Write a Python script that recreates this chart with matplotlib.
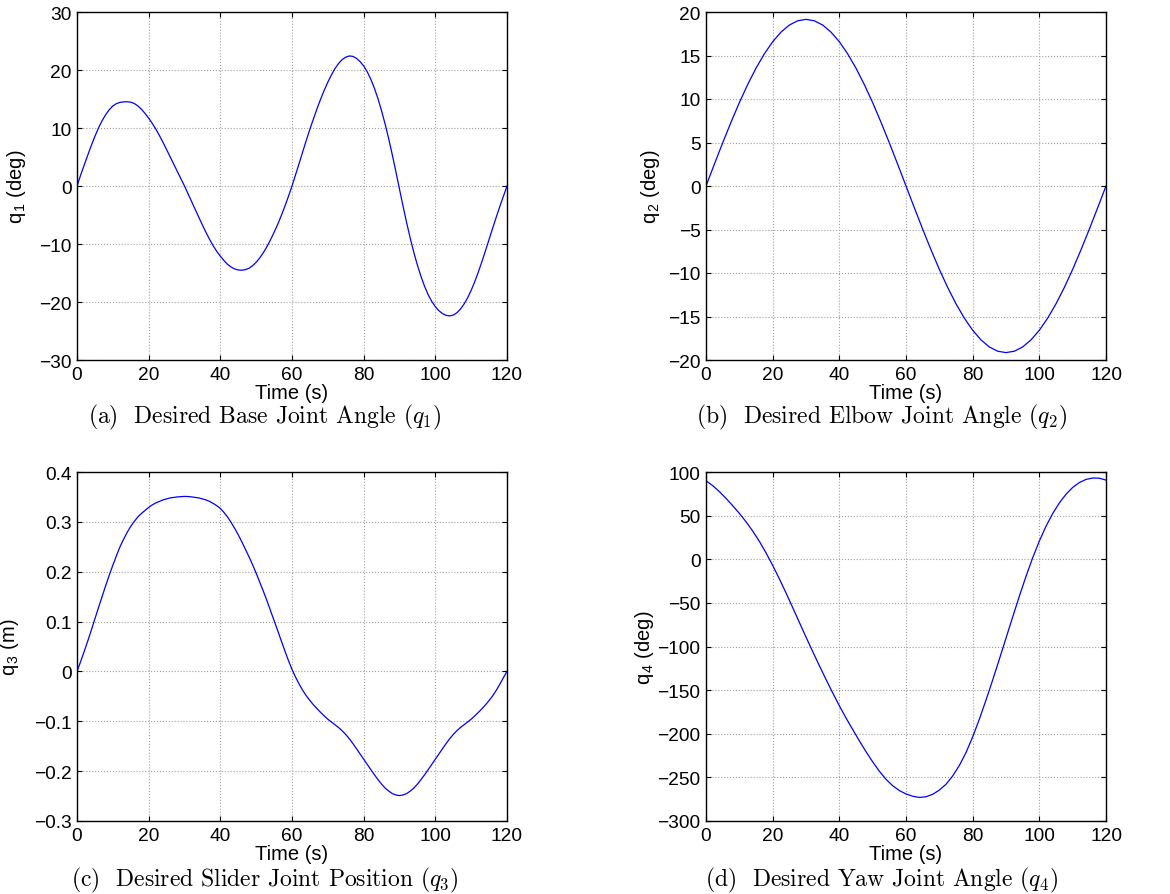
import numpy as np
import matplotlib
matplotlib.use("Agg")
import matplotlib.pyplot as plt

plt.rcParams['font.family'] = ['Liberation Sans', 'DejaVu Sans']
plt.rcParams['mathtext.fontset'] = 'cm'

# ---- data (time in s) ----
t_1s = np.arange(0, 121, 1)
t_2s = np.arange(0, 121, 2)
t_2p5 = np.arange(0, 120.1, 2.5)

q1_deg = [0.00, 1.85, 3.60, 5.32, 7.00, 8.57, 10.00, 11.25, 12.30, 13.15, 13.80, 14.20, 14.42,
          14.50, 14.52, 14.45, 14.22, 13.80, 13.22, 12.50, 11.70, 10.80, 9.80, 8.70, 7.52, 6.28,
          5.02, 3.76, 2.50, 1.25, 0.00,
          -1.35, -2.70, -4.05, -5.40, -6.72, -8.00, -9.20, -10.30, -11.27, -12.10, -12.85, -13.50,
          -13.97, -14.30, -14.48, -14.52, -14.42, -14.18, -13.75, -13.15, -12.40, -11.50, -10.45,
          -9.28, -8.00, -6.62, -5.12, -3.52, -1.80, 0.00,
          1.95, 3.92, 5.92, 7.90, 9.80, 11.60, 13.35, 15.00, 16.52, 17.90, 19.15, 20.25, 21.12,
          21.80, 22.22, 22.42, 22.35, 22.00, 21.45, 20.70, 19.68, 18.40, 16.85, 15.05, 12.95,
          10.65, 8.10, 5.35, 2.45, -0.55,
          -3.50, -6.35, -9.00, -11.45, -13.65, -15.60, -17.30, -18.75, -19.90, -20.80, -21.50,
          -22.00, -22.30, -22.40, -22.26, -21.86, -21.23, -20.37, -19.29, -17.99, -16.50, -14.83,
          -13.03, -11.14, -9.20, -7.26, -5.37, -3.52, -1.76, 0.00]

q2_deg = [0.00, 2.50, 4.96, 7.33, 9.58, 11.66, 13.54, 15.19, 16.58, 17.69, 18.50, 18.99, 19.15,
          18.99, 18.50, 17.69, 16.58, 15.19, 13.54, 11.66, 9.58, 7.33, 4.96, 2.50, 0.00,
          -2.50, -4.96, -7.33, -9.58, -11.66, -13.54, -15.19, -16.58, -17.69, -18.50, -18.99,
          -19.15, -18.99, -18.50, -17.69, -16.58, -15.19, -13.54, -11.66, -9.58, -7.33, -4.96,
          -2.50, 0.00]

q3_m = [0.000, 0.0195, 0.040, 0.061, 0.083, 0.1055, 0.128, 0.150, 0.172, 0.193, 0.213, 0.232,
        0.250, 0.265, 0.279, 0.291, 0.301, 0.310, 0.317, 0.323, 0.329, 0.334, 0.338, 0.341,
        0.344, 0.346, 0.348, 0.349, 0.350, 0.3505, 0.351, 0.3508, 0.350, 0.349, 0.348, 0.346,
        0.344, 0.341, 0.337, 0.3325, 0.327, 0.319, 0.310, 0.299, 0.287, 0.274, 0.260, 0.245,
        0.230, 0.214, 0.197, 0.179, 0.161, 0.142, 0.122, 0.102, 0.082, 0.0615, 0.0415, 0.022,
        0.004,
        -0.0115, -0.0255, -0.038, -0.049, -0.0585, -0.067, -0.0748, -0.0822, -0.0892, -0.0958,
        -0.1015, -0.107, -0.1125, -0.119, -0.1265, -0.135, -0.1447, -0.155, -0.1655, -0.176,
        -0.1865, -0.197, -0.2073, -0.217, -0.226, -0.234, -0.240, -0.245, -0.2478, -0.249,
        -0.2478, -0.245, -0.240, -0.234, -0.226, -0.217, -0.2073, -0.197, -0.1865, -0.176,
        -0.1655, -0.155, -0.1447, -0.135, -0.1265, -0.119, -0.1125, -0.107, -0.1015, -0.0958,
        -0.0892, -0.0822, -0.0748, -0.067, -0.0585, -0.049, -0.038, -0.0255, -0.0125, 0.000]

q4_deg = [90.0, 84.4, 77.6, 69.8, 61.4, 52.6, 43.0, 32.4, 20.6, 7.4, -7.0, -22.4, -38.6, -55.3,
          -72.3, -89.2, -105.7, -121.9, -137.7, -153.1, -167.9, -181.9, -195.1, -208.1, -220.5,
          -232.2, -242.9, -252.2, -259.5, -265.1, -269.0, -271.6, -273.0, -272.2, -269.4, -264.6,
          -257.9, -248.4, -236.4, -221.6, -203.6, -183.4, -161.4, -138.4, -114.6, -90.4, -66.2,
          -42.4, -19.6, 1.6, 20.8, 37.8, 52.3, 64.5, 74.5, 82.3, 87.9, 91.5, 93.1, 92.9, 90.7]

panels = [
    (t_1s, q1_deg, r'q$_\mathregular{1}$ (deg)', (-30, 30), np.arange(-30, 31, 10),
     r'(a)  Desired Base Joint Angle ($q_1$)'),
    (t_2p5, q2_deg, r'q$_\mathregular{2}$ (deg)', (-20, 20), np.arange(-20, 21, 5),
     r'(b)  Desired Elbow Joint Angle ($q_2$)'),
    (t_1s, q3_m, r'q$_\mathregular{3}$ (m)', (-0.3, 0.4), np.round(np.arange(-0.3, 0.41, 0.1), 1),
     r'(c)  Desired Slider Joint Position ($q_3$)'),
    (t_2s, q4_deg, r'q$_\mathregular{4}$ (deg)', (-300, 100), np.arange(-300, 101, 50),
     r'(d)  Desired Yaw Joint Angle ($q_4$)'),
]

W, H = 1170, 895
fig = plt.figure(figsize=(W / 100, H / 100), dpi=100)

# axes boxes in pixels: left, top, right, bottom
boxes = [(77, 13, 507, 361), (706, 13, 1106, 361),
         (77, 473, 507, 822), (706, 473, 1106, 822)]
ylab_x = [-0.114, -0.11, -0.130, -0.125]
cap_pos = [(265, 423), (882, 423), (265, 886), (882, 886)]

for i, (t, q, ylab, ylim, yticks, cap) in enumerate(panels):
    l, tp, r, b = boxes[i]
    ax = fig.add_axes([l / W, 1 - b / H, (r - l) / W, (b - tp) / H])
    ax.plot(t, q, color='#0000ff', lw=0.9)
    ax.set_xlim(0, 120)
    ax.set_ylim(*ylim)
    ax.set_xticks(np.arange(0, 121, 20))
    ax.set_yticks(yticks)
    if i == 2:
        ax.set_yticklabels([('%g' % v).replace('-', '\u2212') for v in yticks])
    ax.grid(True, linestyle=':', color='#a0a0a0', linewidth=0.8)
    ax.tick_params(direction='in', length=3.6, width=0.8, top=True, right=True,
                   labelsize=13.8, pad=4)
    for sp in ax.spines.values():
        sp.set_linewidth(1.0)
    ax.set_xlabel('Time (s)', fontsize=14.5)
    ax.set_ylabel(ylab, fontsize=14.5)
    ax.xaxis.set_label_coords(0.5, -0.066)
    ax.yaxis.set_label_coords(ylab_x[i], 0.5)
    cx, cy = cap_pos[i]
    fig.text(cx / W, 1 - cy / H, cap, ha='center', va='baseline',
             fontsize=17, family='cmr10')

fig.savefig('out.png', dpi=100)
